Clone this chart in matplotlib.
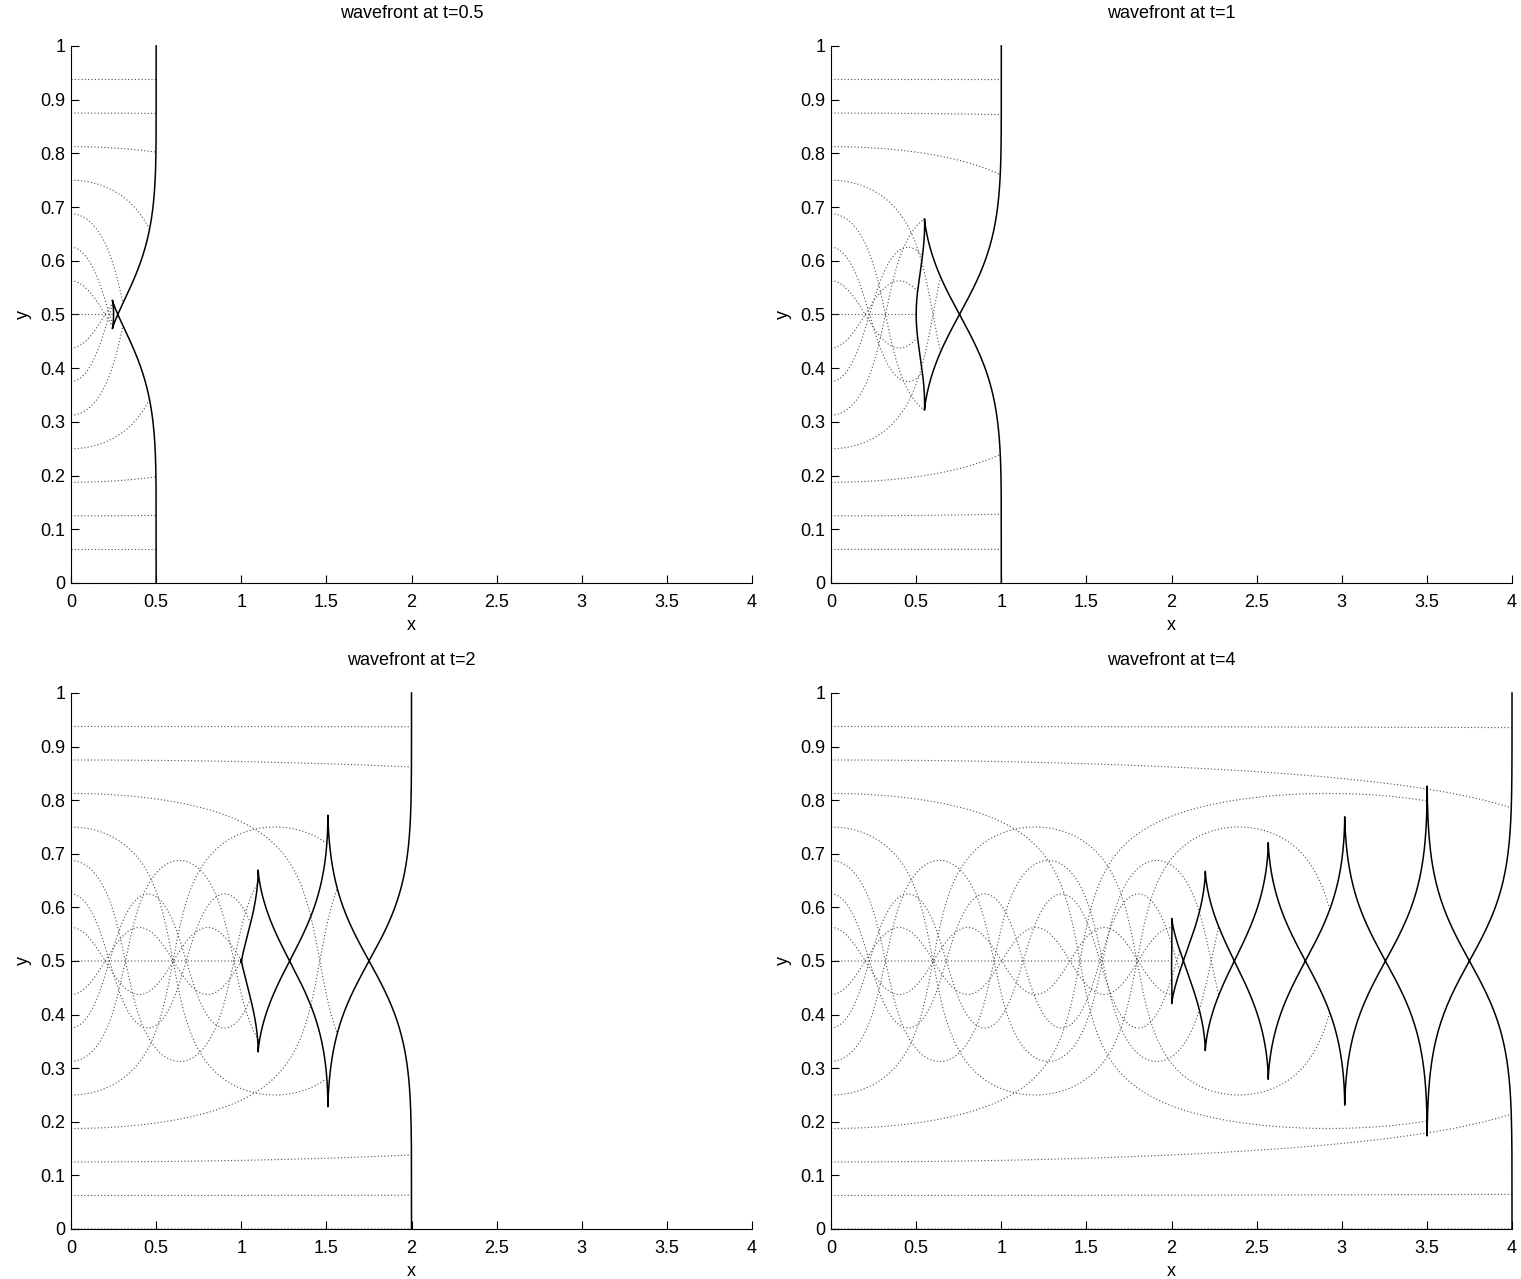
import matplotlib
matplotlib.use('Agg')
import matplotlib.pyplot as plt
import numpy as np

# snapshot times of the four panels
times = [0.5, 1, 2, 4]
# launch heights of the drawn rays (every 1/16)
ray_starts = [0.0, 0.0625, 0.125, 0.1875, 0.25, 0.3125, 0.375, 0.4375, 0.5,
              0.5625, 0.625, 0.6875, 0.75, 0.8125, 0.875, 0.9375]
# wave speed: 1 near the walls, 0.5 on the axis y=0.5 (slow channel)
c_edge = 1.0
c_axis = 0.5
channel_width = 0.125
x_ticks = [0, 0.5, 1, 1.5, 2, 2.5, 3, 3.5, 4]
x_labels = ['0', '0.5', '1', '1.5', '2', '2.5', '3', '3.5', '4']
y_ticks = [0, 0.1, 0.2, 0.3, 0.4, 0.5, 0.6, 0.7, 0.8, 0.9, 1]
y_labels = ['0', '0.1', '0.2', '0.3', '0.4', '0.5', '0.6', '0.7', '0.8', '0.9', '1']

plt.rcParams['font.family'] = ['Liberation Sans', 'DejaVu Sans']


def speed(y):
    # index of refraction n = 1/c with a gaussian bump on the axis
    g = np.exp(-((y - 0.5) / channel_width) ** 2)
    n = 1 / c_edge + (1 / c_axis - 1 / c_edge) * g
    dn = -(1 / c_axis - 1 / c_edge) * g * 2 * (y - 0.5) / channel_width ** 2
    return 1 / n, -dn / n ** 2


def rhs(x, y, py, px):
    c, dc = speed(y)
    return c * c * px, c * c * py, -dc / c


# rays: fine fan for the wavefront plus the drawn rays
front_starts = np.linspace(0, 1, 4001)
y0 = np.concatenate([front_starts, np.array(ray_starts)])
nf = len(front_starts)
x = np.zeros_like(y0)
y = y0.copy()
py = np.zeros_like(y0)
px = 1.0 / speed(y0)[0]

dt = 0.001
nsteps = int(round(max(times) / dt))
ray_x = [x[nf:].copy()]
ray_y = [y[nf:].copy()]
fronts = {}
snap = {int(round(t / dt)): t for t in times}
for i in range(1, nsteps + 1):
    k1 = rhs(x, y, py, px)
    k2 = rhs(x + dt / 2 * k1[0], y + dt / 2 * k1[1], py + dt / 2 * k1[2], px)
    k3 = rhs(x + dt / 2 * k2[0], y + dt / 2 * k2[1], py + dt / 2 * k2[2], px)
    k4 = rhs(x + dt * k3[0], y + dt * k3[1], py + dt * k3[2], px)
    x = x + dt / 6 * (k1[0] + 2 * k2[0] + 2 * k3[0] + k4[0])
    y = y + dt / 6 * (k1[1] + 2 * k2[1] + 2 * k3[1] + k4[1])
    py = py + dt / 6 * (k1[2] + 2 * k2[2] + 2 * k3[2] + k4[2])
    ray_x.append(x[nf:].copy())
    ray_y.append(y[nf:].copy())
    if i in snap:
        fronts[snap[i]] = (x[:nf].copy(), y[:nf].copy())
ray_x = np.array(ray_x)
ray_y = np.array(ray_y)

fig = plt.figure(figsize=(15.21, 12.79), dpi=100)
positions = [[0.0467, 0.5442, 0.4477, 0.4199], [0.5464, 0.5442, 0.4477, 0.4199],
             [0.0467, 0.0391, 0.4477, 0.4191], [0.5464, 0.0391, 0.4477, 0.4191]]

for pos, t in zip(positions, times):
    ax = fig.add_axes(pos)
    n = int(round(t / dt)) + 1
    for j in range(len(ray_starts)):
        ax.plot(ray_x[:n, j], ray_y[:n, j], color='0.3', lw=0.8,
                linestyle=(0, (1, 2)), clip_on=False)
    fx, fy = fronts[t]
    ax.plot(fx, fy, color='black', lw=1.1, clip_on=False)
    ax.set_xlim(0, 4)
    ax.set_ylim(0, 1)
    ax.set_xticks(x_ticks)
    ax.set_xticklabels(x_labels)
    ax.set_yticks(y_ticks)
    ax.set_yticklabels(y_labels)
    ax.spines['top'].set_visible(False)
    ax.spines['right'].set_visible(False)
    ax.tick_params(direction='in', length=6, labelsize=13)
    ax.tick_params(axis='x', pad=8)
    ax.tick_params(axis='y', pad=4)
    ax.set_xlabel('x', fontsize=13, labelpad=4)
    ax.set_ylabel('y', fontsize=13, labelpad=6)
    ax.set_title('wavefront at t=' + '{:g}'.format(t), fontsize=13, pad=20)

fig.savefig('out.png', dpi=100)
